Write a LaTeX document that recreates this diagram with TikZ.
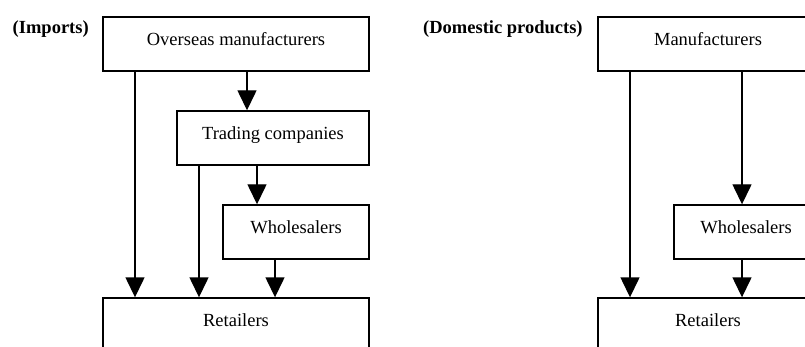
\documentclass[tikz,border=0pt]{standalone}
\usepackage{fontspec}
\setmainfont{Liberation Serif}
\usetikzlibrary{arrows.meta}
\tikzset{
  box/.style={draw, line width=1.4pt, minimum height=54pt, inner sep=0pt,
    text height=11pt, text depth=8pt, font=\fontsize{18.5}{22}\selectfont},
  arr/.style={line width=1.4pt, -{Triangle[width=19pt,length=20pt]}},
  head/.style={anchor=base west, inner sep=0pt, font=\fontsize{18.5}{22}\selectfont\bfseries}
}
\begin{document}
\begin{tikzpicture}[x=1pt,y=-1pt]
\useasboundingbox (0,0) rectangle (805,347);
\clip (0,0) rectangle (805,347);
% Imports
\node[head] (imp) at (12.5,33.5) {(Imports)};
\node[box, minimum width=266pt] (om) at (236,44) {Overseas manufacturers};
\node[box, minimum width=192pt] (tc) at (273,138) {Trading companies};
\node[box, minimum width=146pt] (ws1) at (296,232) {Wholesalers};
\node[box, minimum width=266pt] (rt1) at (236,325) {Retailers};
\coordinate (a1) at (135,0);
\coordinate (a2) at (247,0);
\coordinate (a3) at (199,0);
\coordinate (a4) at (257,0);
\coordinate (a5) at (275,0);
\draw[arr] (om.south -| a1) -- (rt1.north -| a1);
\draw[arr] (om.south -| a2) -- (tc.north -| a2);
\draw[arr] (tc.south -| a3) -- (rt1.north -| a3);
\draw[arr] (tc.south -| a4) -- (ws1.north -| a4);
\draw[arr] (ws1.south -| a5) -- (rt1.north -| a5);
% Domestic products
\node[head] (dom) at (423,33.5) {(Domestic products)};
\node[box, minimum width=220pt] (mf) at (708,44) {Manufacturers};
\node[box, minimum width=144pt] (ws2) at (746,232) {Wholesalers};
\node[box, minimum width=220pt] (rt2) at (708,325) {Retailers};
\coordinate (b1) at (630,0);
\coordinate (b2) at (742,0);
\draw[arr] (mf.south -| b1) -- (rt2.north -| b1);
\draw[arr] (mf.south -| b2) -- (ws2.north -| b2);
\draw[arr] (ws2.south -| b2) -- (rt2.north -| b2);
\end{tikzpicture}
\end{document}
